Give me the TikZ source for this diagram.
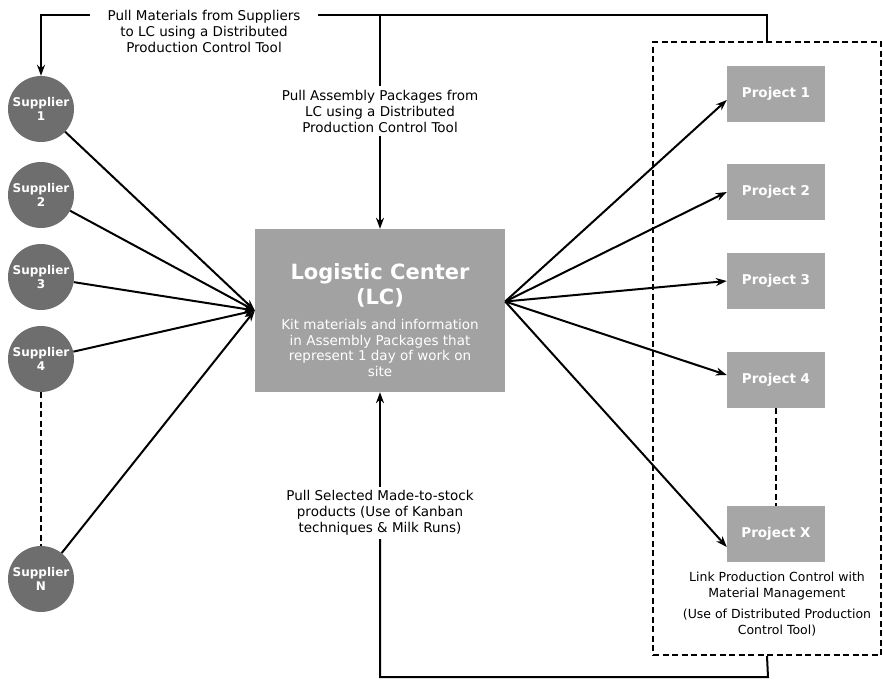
\documentclass[tikz,border=0pt]{standalone}
\usepackage{fontspec}
\setmainfont{DejaVu Sans}
\usetikzlibrary{arrows.meta}

\definecolor{supgray}{HTML}{6E6E6E}
\definecolor{lcgray}{HTML}{A2A2A2}
\definecolor{progray}{HTML}{A6A6A6}

\tikzset{
  supplier/.style={circle, fill=supgray, minimum size=66pt, inner sep=0pt,
    text=white, align=center, font=\fontsize{12}{14}\selectfont\bfseries},
  project/.style={rectangle, fill=progray, minimum width=98pt, minimum height=56pt,
    text=white, font=\fontsize{13.5}{16}\selectfont\bfseries},
  note/.style={align=center, font=\fontsize{13.5}{16}\selectfont},
  flow/.style={-{Stealth[length=11pt, width=8pt]}, line width=2pt},
  link/.style={line width=2pt},
  gap/.style={dashed, dash pattern=on 6pt off 3.5pt, line width=2.2pt},
}

\begin{document}
\begin{tikzpicture}[x=1pt, y=-1pt]

  \useasboundingbox (0,0) rectangle (883,680);

  % Suppliers
  \node[supplier] (s1) at (41,109) {Supplier\\1};
  \node[supplier] (s2) at (41,195) {Supplier\\2};
  \node[supplier] (s3) at (41,277) {Supplier\\3};
  \node[supplier] (s4) at (41,359) {Supplier\\4};
  \node[supplier] (sn) at (41,579) {Supplier\\N};
  \draw[gap] (s4) -- (sn);

  % Logistic Center
  \node[rectangle, fill=lcgray, minimum width=250pt, minimum height=163pt] (lc) at (380,310.5) {};
  \node[text=white, align=center, font=\fontsize{21}{25}\selectfont\bfseries] (lctitle) at (380,285)
    {Logistic Center\\(LC)};
  \node[text=white, align=center, font=\fontsize{13.5}{15.5}\selectfont] (lcnote) at (380,348)
    {Kit materials and information\\in Assembly Packages that\\represent 1 day of work on\\site};

  % Site box with projects
  \node[draw, gap, minimum width=228pt, minimum height=613pt] (site) at (767,348.5) {};
  \node[project] (p1) at (776,94) {Project 1};
  \node[project] (p2) at (776,192) {Project 2};
  \node[project] (p3) at (776,281) {Project 3};
  \node[project] (p4) at (776,380) {Project 4};
  \node[project] (px) at (776,534) {Project X};
  \draw[gap] (p4) -- (px);
  \node[note, font=\fontsize{12.5}{16}\selectfont] (pxnote) at (777,604)
    {Link Production Control with\\Material Management\\[5pt](Use of Distributed Production\\Control Tool)};

  % Flows into and out of the LC
  \foreach \s in {s1,s2,s3,s4,sn}
    \draw[flow] (\s) -- (lc.west);
  \coordinate (lce) at ([yshift=9pt]lc.east);
  \draw[flow] (lce) -- ([yshift=-6pt]p1.west);
  \draw[flow] (lce) -- (p2.west);
  \draw[flow] (lce) -- (p3.west);
  \draw[flow] (lce) -- ([yshift=5pt]p4.west);
  \draw[flow] (lce) -- ([yshift=-13pt]px.west);

  % Pull labels
  \node[note] (t1) at (204,31)
    {Pull Materials from Suppliers\\to LC using a Distributed\\Production Control Tool};
  \node[note] (t2) at (380,111)
    {Pull Assembly Packages from\\LC using a Distributed\\Production Control Tool};
  \node[note] (t3) at (380,513)
    {Pull Selected Made-to-stock\\products (Use of Kanban\\techniques \& Milk Runs)};
  \coordinate (t1l) at (90,15);
  \coordinate (t1r) at (318,15);
  \coordinate (bot) at (768,677);

  \draw[flow] (t1l) -| (s1);
  \draw[link] (t1r) -| (site.north);
  \draw[link] (t1r -| t2) -- (t2.north);
  \draw[flow] (t2.south) -- (lc.north);
  \draw[flow] (t3.north) -- (lc.south);
  \draw[link] (t3.south) |- (bot) -- (site.south);

\end{tikzpicture}
\end{document}
